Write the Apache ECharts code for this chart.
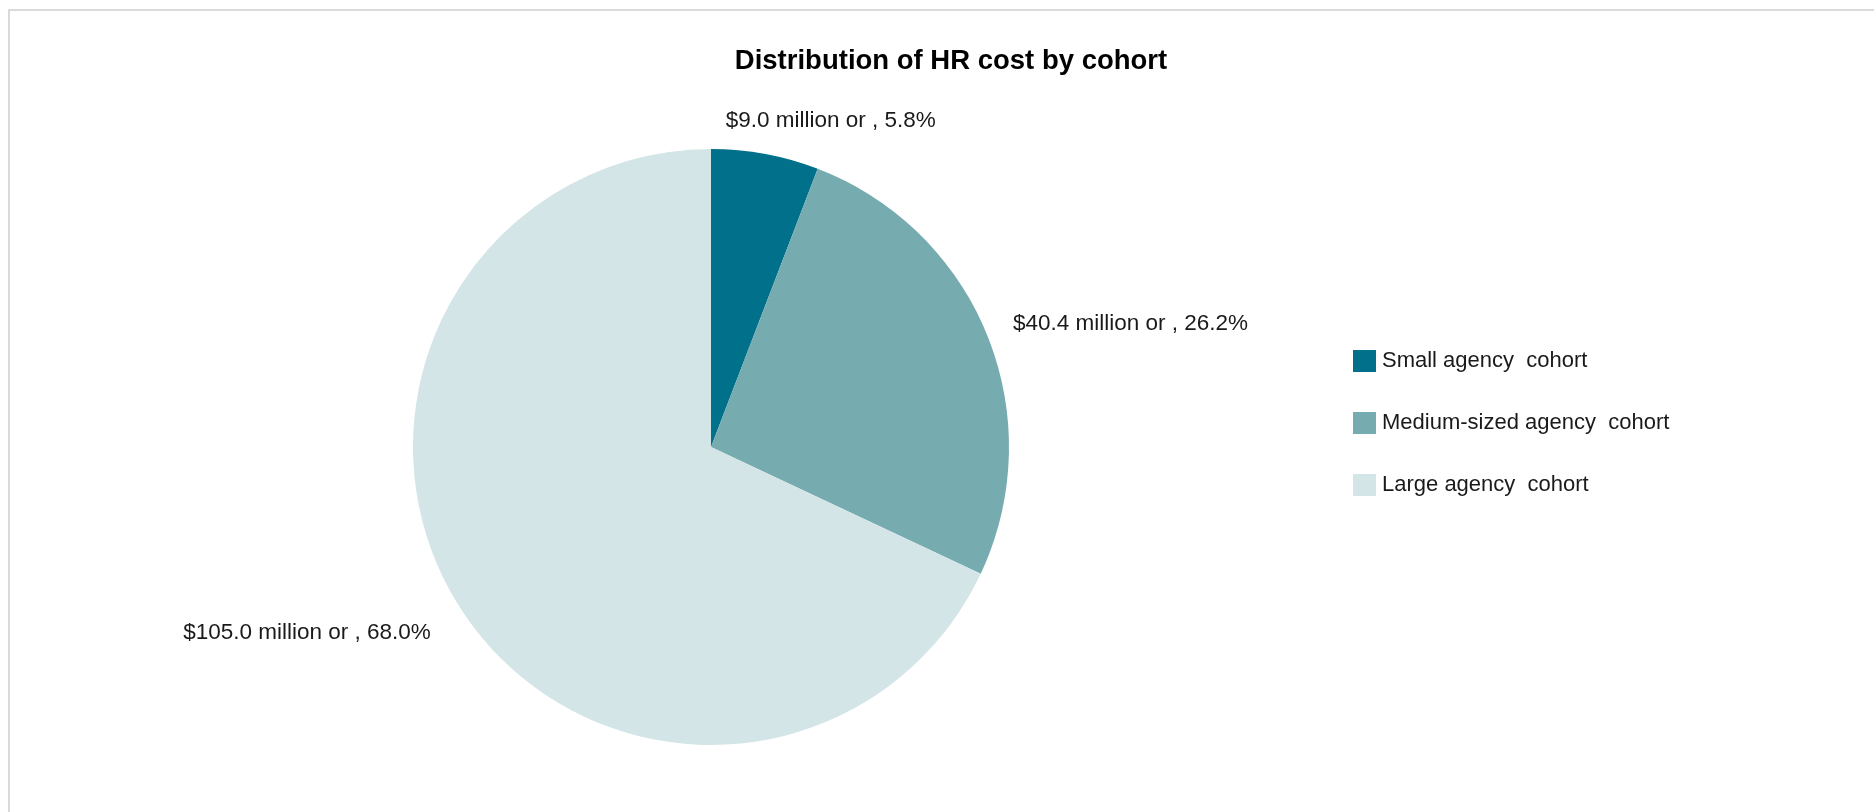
<!DOCTYPE html>
<html>
<head>
<meta charset="utf-8">
<title>Distribution of HR cost by cohort</title>
<script src="https://cdn.jsdelivr.net/npm/echarts@6/dist/echarts.min.js"></script>
<style>
  html, body { margin: 0; padding: 0; background: #ffffff; }
  #chart { width: 1874px; height: 812px; }
</style>
</head>
<body>
<div id="chart"></div>
<script>
// Chart data
const chartTitle = 'Distribution of HR cost by cohort';
const cohorts = ['Small agency  cohort', 'Medium-sized agency  cohort', 'Large agency  cohort'];
const costMillions = [9.0, 40.4, 105.0];
const costShares = [5.8, 26.2, 68.0];
const cohortColors = ['#00708b', '#76abb0', '#d3e5e7'];

// Small per-label nudges applied after the default outside label layout
const labelNudge = [
  { dx: -51, dy: 1 },
  { dx: -12, dy: 1 },
  { dx: 6, dy: 7 }
];

const FONT = '"Liberation Sans", Arial, sans-serif';

const pieData = cohorts.map((name, i) => ({
  name: name,
  value: costMillions[i],
  share: costShares[i],
  itemStyle: { color: cohortColors[i] }
}));

const chart = echarts.init(document.getElementById('chart'), null, { renderer: 'canvas' });

chart.setOption({
  backgroundColor: '#ffffff',
  animation: false,
  graphic: [{
    type: 'rect',
    shape: { x: 9, y: 10, width: 1900, height: 900 },
    style: { fill: 'none', stroke: '#dadada', lineWidth: 2 },
    silent: true,
    z: -1
  }],
  title: {
    text: chartTitle,
    left: 951,
    top: 47,
    padding: 0,
    textAlign: 'center',
    textStyle: {
      fontFamily: FONT,
      fontSize: 27.5,
      fontWeight: 'bold',
      color: '#000000'
    }
  },
  legend: {
    orient: 'vertical',
    left: 1353,
    top: 350,
    padding: 0,
    icon: 'rect',
    itemWidth: 23,
    itemHeight: 22,
    itemGap: 40,
    selectedMode: false,
    data: cohorts,
    textStyle: {
      fontFamily: FONT,
      fontSize: 22,
      color: '#1a1a1a',
      padding: [0, 0, 0, 1]
    }
  },
  series: [{
    type: 'pie',
    center: [711, 447],
    radius: 298,
    startAngle: 90,
    clockwise: true,
    avoidLabelOverlap: false,
    data: pieData,
    itemStyle: { borderWidth: 0 },
    emphasis: { disabled: true },
    label: {
      show: true,
      position: 'outside',
      distanceToLabelLine: 5,
      fontFamily: FONT,
      fontSize: 22.5,
      color: '#1a1a1a',
      formatter: (p) => '$' + p.data.value.toFixed(1) + ' million or , ' + p.data.share.toFixed(1) + '%'
    },
    labelLine: { show: false, length: 35, length2: 0 },
    labelLayout: (params) => labelNudge[params.dataIndex]
  }]
});
</script>
</body>
</html>
